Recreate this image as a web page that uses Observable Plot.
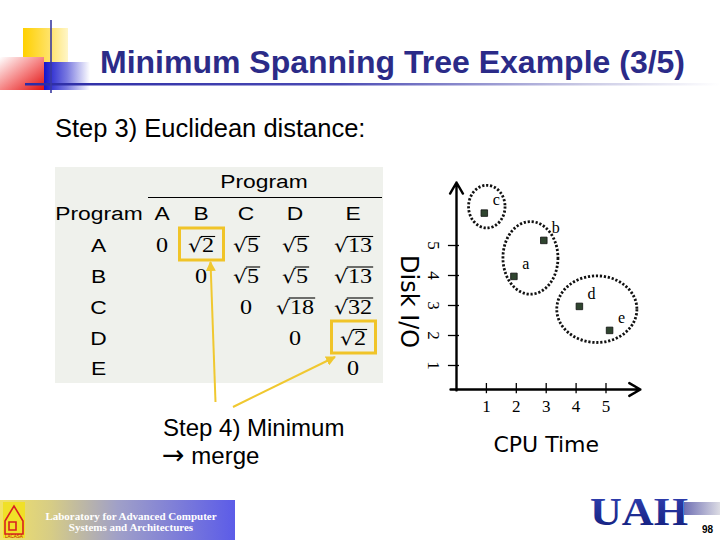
<!DOCTYPE html>
<html><head><meta charset="utf-8">
<script src="https://cdn.jsdelivr.net/npm/d3@7"></script>
<script src="https://cdn.jsdelivr.net/npm/@observablehq/plot@0.6"></script>
<style>
html,body{margin:0;padding:0;background:#fff;}
#page{position:relative;width:720px;height:540px;overflow:hidden;background:#fff;}
#page svg{position:absolute;left:0;top:0;}
</style></head><body><div id="page"></div>
<script>
// ---------- data ----------
const titleText = "Minimum Spanning Tree Example (3/5)";
const step3Text = "Step 3) Euclidean distance:";
const step4Line1 = "Step 4) Minimum";
const step4Arrow = "\u2192";
const step4Line2 = " merge";
const xLabel = "CPU Time";
const yLabel = "Disk I/O";

const pointNames = ["c", "b", "a", "d", "e"];
const cpuTime = [0.93, 2.92, 1.92, 4.11, 5.12];
const diskIO = [6.08, 5.17, 3.97, 2.97, 2.17];
const xTicks = [1, 2, 3, 4, 5];
const yTicks = [1, 2, 3, 4, 5];
const clusterCx = [1.03, 2.49, 4.71];
const clusterCy = [6.28, 4.57, 2.86];
const clusterRx = [0.61, 0.92, 1.34];
const clusterRy = [0.71, 1.21, 1.11];

const programs = ["A", "B", "C", "D", "E"];
const distSqA = [0, 2, 5, 5, 13];
const distSqB = [null, 0, 5, 5, 13];
const distSqC = [null, null, 0, 18, 32];
const distSqD = [null, null, null, 0, 2];
const distSqE = [null, null, null, null, 0];
const minPairs = [["A", "B"], ["D", "E"]];

const labName = ["Laboratory for Advanced Computer", "Systems and Architectures"];
const logoText = "UAH";
const pageNumber = "98";

// ---------- static slide layer ----------
const page = d3.select("#page");
const deco = page.append("svg").attr("width", 720).attr("height", 540);
const defs = deco.append("defs");
function grad(id, stops, x1, y1, x2, y2) {
  const g = defs.append("linearGradient").attr("id", id)
    .attr("x1", x1).attr("y1", y1).attr("x2", x2).attr("y2", y2);
  stops.forEach(([o, c]) => g.append("stop").attr("offset", o).attr("stop-color", c));
}
grad("gY", [[0, "#ffd000"], [0.6, "#ffe36a"], [1, "#fff6c8"]], 0, 0, 1, 0);
grad("gR", [[0, "#ffffff"], [0.55, "#f47a7a"], [1, "#e01010"]], 0, 0, 1, 1);
grad("gB", [[0, "#1414cc"], [0.5, "#7a7ae0"], [1, "#ffffff"]], 0, 0, 1, 0);
grad("gL", [[0, "#2c2ca6"], [0.45, "#4a4ab4"], [0.8, "#c8c8e4"], [1, "#ffffff"]], 0, 0, 1, 0);
grad("gBan", [[0, "#f2e266"], [0.22, "#d6cc86"], [0.5, "#a0a0c8"], [1, "#5c5ce8"]], 0, 0, 1, 0);
grad("gBar", [[0, "#7070b4"], [1, "#dcdce4"]], 0, 0, 1, 0);
grad("gUAH", [[0, "#3444b8"], [1, "#101c78"]], 0, 0, 0, 1);
const mk = defs.append("marker").attr("id", "ah").attr("viewBox", "0 0 10 10")
  .attr("refX", 9).attr("refY", 5).attr("markerWidth", 5).attr("markerHeight", 5)
  .attr("orient", "auto-start-reverse");
mk.append("path").attr("d", "M0,0 L10,5 L0,10 z").attr("fill", "#f0c830");

// top-left ornament
deco.append("rect").attr("x", 23).attr("y", 28).attr("width", 45).attr("height", 34).attr("fill", "url(#gY)");
deco.append("rect").attr("x", 0).attr("y", 57).attr("width", 44).attr("height", 33).attr("fill", "url(#gR)");
deco.append("rect").attr("x", 44).attr("y", 62).attr("width", 46).attr("height", 28).attr("fill", "url(#gB)");
deco.append("rect").attr("x", 25).attr("y", 83).attr("width", 695).attr("height", 2.5).attr("fill", "url(#gL)");
deco.append("line").attr("x1", 51).attr("x2", 51).attr("y1", 20).attr("y2", 93)
  .attr("stroke", "#3a3aa0").attr("stroke-width", 1.6);

// title and texts
deco.append("text").attr("x", 100).attr("y", 73).attr("font-family", "Liberation Sans, Arial, sans-serif")
  .attr("font-weight", "bold").attr("font-size", 32).attr("fill", "#2b2b88").text(titleText);
deco.append("text").attr("x", 55).attr("y", 137).attr("font-family", "Liberation Sans, Arial, sans-serif")
  .attr("font-size", 25.5).attr("fill", "#000").text(step3Text);
deco.append("text").attr("x", 163).attr("y", 436)
  .attr("font-family", "Liberation Sans, Arial, sans-serif").attr("font-size", 24).attr("fill", "#000").text(step4Line1);
const l2 = deco.append("text").attr("x", 162).attr("y", 464)
  .attr("font-family", "Liberation Sans, Arial, sans-serif").attr("font-size", 24).attr("fill", "#000");
l2.append("tspan").attr("font-family", "DejaVu Sans").attr("font-size", 27).text(step4Arrow);
l2.append("tspan").attr("font-family", "Liberation Sans, Arial, sans-serif").attr("font-size", 24).text(step4Line2);

// distance table
const tb = deco.append("g");
tb.append("rect").attr("x", 55).attr("y", 167).attr("width", 328).attr("height", 216).attr("fill", "#eff1ec");
const colX = [162, 201, 246, 295, 353];
const rowY = [252, 282.5, 313.5, 345, 375];
const SX = 1.2;
function sans(x, y, t) {
  tb.append("text").attr("transform", `translate(${x},${y}) scale(${SX},1)`).attr("text-anchor", "middle")
    .attr("font-family", "Liberation Sans, Arial, sans-serif").attr("font-size", 19).attr("fill", "#000").text(t);
}
sans(264, 188, "Program");
tb.append("line").attr("x1", 148).attr("x2", 382).attr("y1", 197.5).attr("y2", 197.5).attr("stroke", "#000").attr("stroke-width", 1.2);
sans(99, 220, "Program");
programs.forEach((p, i) => { sans(colX[i], 220, p); sans(98.5, rowY[i], p); });
const distRows = [distSqA, distSqB, distSqC, distSqD, distSqE];
distRows.forEach((row, r) => row.forEach((v, c) => {
  if (v === null) return;
  const g = tb.append("g").attr("transform", `translate(${colX[c]},${rowY[r]}) scale(1.15,1)`);
  if (v === 0) {
    g.append("text").attr("text-anchor", "middle").attr("font-family", "Liberation Serif, serif")
      .attr("font-size", 21).text("0");
  } else {
    const rad = g.append("text").attr("font-family", "DejaVu Serif, serif").attr("font-size", 19).text("\u221A");
    const num = g.append("text").attr("font-family", "Liberation Serif, serif").attr("font-size", 21).text(String(v));
    const wr = rad.node().getComputedTextLength(), wn = num.node().getComputedTextLength();
    const tot = wr + wn;
    rad.attr("x", -tot / 2); num.attr("x", -tot / 2 + wr);
    g.append("line").attr("x1", -tot / 2 + wr - 1).attr("x2", tot / 2 + 1).attr("y1", -15.5).attr("y2", -15.5)
      .attr("stroke", "#000").attr("stroke-width", 1.1);
  }
}));
minPairs.forEach(([a, b]) => {
  const r = programs.indexOf(a), c = programs.indexOf(b);
  tb.append("rect").attr("x", colX[c] - 21.5).attr("y", rowY[r] - 24).attr("width", 44).attr("height", 32)
    .attr("fill", "none").attr("stroke", "#f0c428").attr("stroke-width", 3);
});
tb.append("line").attr("x1", 215.5).attr("y1", 402).attr("x2", 210.5).attr("y2", 262)
  .attr("stroke", "#f0c830").attr("stroke-width", 2).attr("marker-end", "url(#ah)");
tb.append("line").attr("x1", 233).attr("y1", 407).attr("x2", 335).attr("y2", 357)
  .attr("stroke", "#f0c830").attr("stroke-width", 2).attr("marker-end", "url(#ah)");

// bottom-left lab banner
deco.append("rect").attr("x", 0).attr("y", 500).attr("width", 235).attr("height", 40).attr("fill", "url(#gBan)");
deco.append("rect").attr("x", 3).attr("y", 502).attr("width", 22).attr("height", 36).attr("fill", "#f0e028");
deco.append("path").attr("d", "M5,521 L14,506 L23,521 V534 H5 Z M9,522 h7 v8 h-7 Z")
  .attr("fill", "none").attr("stroke", "#d82020").attr("stroke-width", 1.6);
deco.append("text").attr("x", 14).attr("y", 537.5).attr("text-anchor", "middle").attr("font-size", 4.5)
  .attr("font-family", "Liberation Sans, sans-serif").attr("fill", "#c01010").text("LACASA");
labName.forEach((t, i) => deco.append("text").attr("x", 131).attr("y", 520 + i * 11).attr("text-anchor", "middle")
  .attr("font-family", "Liberation Serif, serif").attr("font-weight", "bold").attr("font-size", 11)
  .attr("fill", "#ffffff").text(t));

// bottom-right logo
deco.append("rect").attr("x", 684).attr("y", 502).attr("width", 36).attr("height", 13).attr("fill", "url(#gBar)");
deco.append("text").attr("x", 590).attr("y", 525).attr("font-family", "Liberation Serif, serif").attr("font-weight", "bold")
  .attr("font-size", 40).attr("textLength", 98).attr("lengthAdjust", "spacingAndGlyphs")
  .attr("fill", "url(#gUAH)").text(logoText);
deco.append("text").attr("x", 702).attr("y", 533).attr("font-family", "Liberation Sans, Arial, sans-serif")
  .attr("font-weight", "bold").attr("font-size", 10).attr("fill", "#000").text(pageNumber);

// ---------- scatter plot (Observable Plot) ----------
const pts = pointNames.map((name, i) => ({name, x: cpuTime[i], y: diskIO[i]}));
const xAxisY = 0.2;
const serif = "Liberation Serif, Times New Roman, serif";
const chart = Plot.plot({
  width: 720, height: 540, margin: 0,
  x: {domain: [0, 5], range: [456, 605.5], axis: null},
  y: {domain: [0, 5], range: [395, 245], axis: null},
  style: {background: "transparent", overflow: "visible"},
  marks: [
    Plot.ruleX(xTicks, {x: d => d, y1: () => xAxisY - 0.14, y2: () => xAxisY + 0.2, stroke: "#000", strokeWidth: 1.3}),
    Plot.ruleY(yTicks, {y: d => d, x1: () => -0.27, x2: () => 0.1, stroke: "#000", strokeWidth: 1.3}),
    Plot.arrow([{x1: -0.2, y1: xAxisY, x2: 6.15, y2: xAxisY}], {x1: "x1", y1: "y1", x2: "x2", y2: "y2",
      stroke: "#000", strokeWidth: 2.4, headLength: 8}),
    Plot.arrow([{x1: 0, y1: xAxisY - 0.03, x2: 0, y2: 7.1}], {x1: "x1", y1: "y1", x2: "x2", y2: "y2",
      stroke: "#000", strokeWidth: 2.4, headLength: 8}),
    Plot.text(xTicks, {x: d => d, y: () => xAxisY, dy: 17, text: d => String(d), fontSize: 17, fontFamily: serif, fill: "#000"}),
    Plot.text(yTicks, {x: () => 0, y: d => d, dx: -23, rotate: 90, text: d => String(d), fontSize: 17, fontFamily: serif, fill: "#000"}),
    Plot.dot(pts, {x: "x", y: "y", symbol: "square", r: 3.7, fill: "#2f452f", stroke: "#111", strokeWidth: 0.8}),
    Plot.text(pts, {x: "x", y: "y", text: "name", dx: 12, dy: -13, fontSize: 16, fontFamily: serif, fill: "#000"}),
    Plot.text([xLabel], {x: () => 3, y: () => xAxisY, dy: 55, text: d => d, fontSize: 22, fontFamily: "DejaVu Sans, sans-serif", fill: "#000"}),
    Plot.text([yLabel], {x: () => 0, y: () => 3.13, dx: -48, rotate: 90, text: d => d, fontSize: 24, fontFamily: "DejaVu Sans, sans-serif", fill: "#000"})
  ]
});
document.getElementById("page").appendChild(chart);

// dotted cluster outlines, placed with the plot's own scales
const sx = chart.scale("x"), sy = chart.scale("y");
d3.select(chart).append("g").selectAll("ellipse").data(clusterCx.map((cx, i) => i)).join("ellipse")
  .attr("cx", i => sx.apply(clusterCx[i]))
  .attr("cy", i => sy.apply(clusterCy[i]))
  .attr("rx", i => sx.apply(clusterCx[i] + clusterRx[i]) - sx.apply(clusterCx[i]))
  .attr("ry", i => sy.apply(clusterCy[i] - clusterRy[i]) - sy.apply(clusterCy[i]))
  .attr("fill", "none").attr("stroke", "#111").attr("stroke-width", 2.8).attr("stroke-dasharray", "2.2 1.8");
</script>
</body></html>
